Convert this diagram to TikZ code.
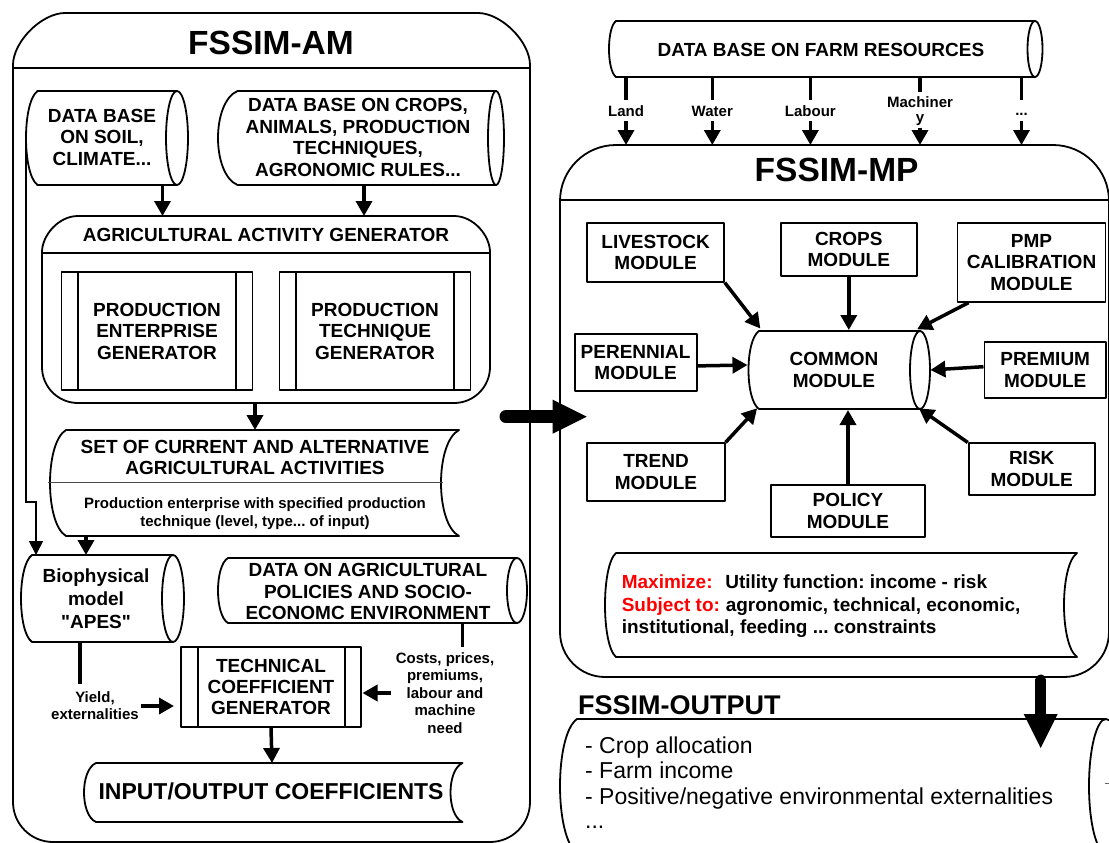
\documentclass[tikz,border=0pt]{standalone}
\usepackage{fontspec}
\setmainfont{Liberation Sans}
% same face without TeX input mapping, for straight quotation marks
\newfontfamily\plainsans{Liberation Sans}
\usetikzlibrary{arrows.meta}

% direct-access storage: top-left x, left bulge, ellipse centre x, x radius, top y, bottom y, y radius
\newcommand\dbshape[7]{%
  \draw[box] (#3,#5) -- (#1,#5)
    .. controls ({#1-4*#2/3},{#5+0.12*(#6-#5)}) and ({#1-4*#2/3},{#6-0.12*(#6-#5)}) .. (#1,#6) -- (#3,#6);
  \draw[box] (#3,{(#5+#6)/2}) ellipse [x radius=#4pt, y radius=#7pt];
}
% stored data: left x, left bulge, right x, right bulge, top y, bottom y
\newcommand\sdshape[6]{%
  \draw[box] (#1,#5) -- (#3,#5)
    .. controls ({#3-4*#4/3},{#5+0.12*(#6-#5)}) and ({#3-4*#4/3},{#6-0.12*(#6-#5)}) .. (#3,#6)
    -- (#1,#6)
    .. controls ({#1-4*#2/3},{#6-0.12*(#6-#5)}) and ({#1-4*#2/3},{#5+0.12*(#6-#5)}) .. cycle;
}

\tikzset{
  box/.style={line width=1.8pt, line join=round},
  txt/.style={font=\bfseries\fontsize{19pt}{21.5pt}\selectfont, align=center, inner sep=0pt},
  small/.style={font=\bfseries\fontsize{15pt}{17.4pt}\selectfont, align=center, inner sep=0pt},
  bigtitle/.style={font=\bfseries\fontsize{33.5pt}{36pt}\selectfont, inner sep=0pt},
  module/.style={draw, box, txt},
  arr/.style={line width=3.5pt, -{Triangle[length=15pt,width=16pt]}},
  thinarr/.style={line width=1.8pt, -{Triangle[length=14pt,width=14pt]}},
  stem/.style={line width=3.5pt},
  fat/.style={line cap=round, -{Triangle[length=34pt,width=34pt,line width=0pt]}},
  outtxt/.style={font=\fontsize{23pt}{26pt}\selectfont, inner sep=0pt, anchor=base west},
  objtxt/.style={font=\bfseries\fontsize{19pt}{22pt}\selectfont, inner sep=0pt, anchor=base west},
}

\begin{document}
\frenchspacing
\begin{tikzpicture}[x=1pt,y=-1pt]
\useasboundingbox (0,0) rectangle (1109,843);
\clip (0,0) rectangle (1109,843);

% ---------------- FSSIM-AM frame ----------------
\draw[box] (13,802) -- (13,65) .. controls (13,41.7) and (41.7,13) .. (65,13) -- (478,13)
  .. controls (501.3,13) and (530,41.7) .. (530,65) -- (530,802)
  .. controls (530,824.1) and (512.1,842) .. (490,842) -- (53,842)
  .. controls (30.9,842) and (13,824.1) .. (13,802) -- cycle;
\draw[box] (13,68) -- (530,68);
\node[bigtitle] (amtitle) at (271,42.5) {FSSIM-AM};

% data bases
\dbshape{37.5}{11.5}{177}{11}{91}{185}{47}
\node[txt] (soil) at (102,137) {DATA BASE\\ON SOIL,\\CLIMATE...};
\coordinate (soil-s) at (162.5,185);
\coordinate (soil-w) at (26,138);

\dbshape{237.5}{19.5}{496}{8}{91}{185}{47}
\node[txt] (crops) at (358,137.5) {DATA BASE ON CROPS,\\ANIMALS, PRODUCTION\\TECHNIQUES,\\AGRONOMIC RULES...};
\coordinate (crops-s) at (364,185);

% agricultural activity generator
\draw[box] (42,367) -- (42,252) .. controls (42,235.9) and (58.1,216) .. (78,216) -- (454,216)
  .. controls (473.9,216) and (490,235.9) .. (490,252) -- (490,367)
  .. controls (490,386.9) and (473.9,403) .. (454,403) -- (78,403)
  .. controls (58.1,403) and (42,386.9) .. (42,367) -- cycle;
\draw[box] (42,253) -- (490,253);
\node[txt] (aag) at (266,235) {AGRICULTURAL ACTIVITY GENERATOR};
\coordinate (aag-n1) at (162.5,216);
\coordinate (aag-n2) at (364,216);
\coordinate (aag-s) at (255,403);

\node[module, minimum width=191pt, minimum height=118pt] (peg) at (157,331) {PRODUCTION\\ENTERPRISE\\GENERATOR};
\draw[box] ([xshift=17.5pt]peg.north west) -- ([xshift=17.5pt]peg.south west);
\draw[box] ([xshift=-17.5pt]peg.north east) -- ([xshift=-17.5pt]peg.south east);
\node[module, minimum width=191pt, minimum height=118pt] (ptg) at (375,331) {PRODUCTION\\TECHNIQUE\\GENERATOR};
\draw[box] ([xshift=17.5pt]ptg.north west) -- ([xshift=17.5pt]ptg.south west);
\draw[box] ([xshift=-17.5pt]ptg.north east) -- ([xshift=-17.5pt]ptg.south east);

% set of activities
\sdshape{66}{16}{459}{18}{430}{536}
\draw[line width=0.8pt, black!70] (48,482) -- (443,482);
\node[txt, font=\bfseries\fontsize{19pt}{21pt}\selectfont] (set) at (255,457) {SET OF CURRENT AND ALTERNATIVE\\AGRICULTURAL ACTIVITIES};
\node[small, font=\bfseries\fontsize{15pt}{18pt}\selectfont] (setsub) at (255,513.5) {Production enterprise with specified production\\technique (level, type... of input)};
\coordinate (set-n) at (255,430);
\coordinate (set-s) at (86,536);

% biophysical model and policy data
\dbshape{32}{11}{173}{11}{555}{642}{43.5}
\node[txt, font=\bfseries\fontsize{19pt}{23pt}\selectfont] (bio) at (96,598.5) {Biophysical\\model\\{\plainsans"}APES{\plainsans"}};
\coordinate (bio-n1) at (36,555);
\coordinate (bio-n2) at (86,555);
\coordinate (bio-s) at (80,642);
\coordinate (bio-t) at (80,684);

\dbshape{228}{10}{517}{10}{558}{623}{32.5}
\node[txt] (pol) at (368,591.5) {DATA ON AGRICULTURAL\\POLICIES AND SOCIO-\\ECONOMC ENVIRONMENT};
\coordinate (pol-s) at (462.5,623);
\coordinate (pol-t) at (462.5,647);

% technical coefficient generator
\node[module, minimum width=180pt, minimum height=80pt, font=\bfseries\fontsize{19pt}{21pt}\selectfont] (tc) at (271,687) {TECHNICAL\\COEFFICIENT\\GENERATOR};
\draw[box] ([xshift=17.5pt]tc.north west) -- ([xshift=17.5pt]tc.south west);
\draw[box] ([xshift=-17pt]tc.north east) -- ([xshift=-17pt]tc.south east);
\node[small, font=\bfseries\fontsize{15pt}{17pt}\selectfont] (yield) at (95,705.5) {Yield,\\externalities};
\node[small] (costs) at (445,693) {Costs, prices,\\premiums,\\labour and\\machine\\need};
\coordinate (yield-e) at (141,706);
\coordinate (tc-w) at (174,706);
\coordinate (costs-w) at (391,693);
\coordinate (tc-e) at (362.5,693);

% input/output coefficients
\sdshape{96}{12}{462.5}{12}{763}{822}
\node[txt, font=\bfseries\fontsize{23pt}{26pt}\selectfont] (io) at (271,791.5) {INPUT/OUTPUT COEFFICIENTS};
\coordinate (io-n) at (272,763);

% connectors inside FSSIM-AM
\draw[arr] (soil-s) -- (aag-n1);
\draw[arr] (crops-s) -- (aag-n2);
\draw[arr] (aag-s) -- (set-n);
\draw[thinarr] (soil-w) -- (26,502) -| (bio-n1);
\draw[arr] (set-s) -- (bio-n2);
\draw[stem] (bio-s) -- (bio-t);
\draw[arr] (yield-e) -- (tc-w);
\draw[stem] (pol-s) -- (pol-t);
\draw[arr] (costs-w) -- (tc-e);
\draw[arr] (tc.south) -- (io-n);

% ---------------- farm resources ----------------
\dbshape{616}{7}{1035}{7.5}{21}{77}{28}
\node[txt] (farm) at (821,49.5) {DATA BASE ON FARM RESOURCES};
\node[small, anchor=base] (lland) at (626,116) {Land};
\node[small, anchor=base] (lwater) at (712.3,116) {Water};
\node[small, anchor=base] (llabour) at (810.4,116) {Labour};
\node[small, anchor=base] (lmach) at (920,107.7) {Machiner};
\node[small, anchor=base] (lmachy) at (920,122.4) {y};
\node[small, anchor=base] (ldots) at (1021.5,115) {...};
\foreach \nm/\x in {land/626,water/712.3,labour/810.4,dots/1021.5}{
  \coordinate (fr-\nm) at (\x,77);
  \coordinate (mp-\nm) at (\x,145);
  \draw[stem] (fr-\nm) -- ++(0,23);
  \draw[arr] (mp-\nm) ++(0,-24) -- (mp-\nm);
}
\coordinate (fr-mach) at (920,77);
\coordinate (mp-mach) at (920,145);
\draw[stem] (fr-mach) -- ++(0,15);
\draw[arr] (mp-mach) ++(0,-17) -- (mp-mach);

% ---------------- FSSIM-MP frame ----------------
\draw[box] (560,632) -- (560,201) .. controls (560,170.1) and (585.1,145) .. (616,145) -- (1053,145)
  .. controls (1083.9,145) and (1109,170.1) .. (1109,201) -- (1109,632)
  .. controls (1109,656.8) and (1088.8,677) .. (1064,677) -- (605,677)
  .. controls (580.2,677) and (560,656.8) .. (560,632) -- cycle;
\draw[box] (560,200) -- (1109,200);
\node[bigtitle] (mptitle) at (836.6,170) {FSSIM-MP};

\node[module, minimum width=136.6pt, minimum height=58.4pt] (live) at (655.6,252.5) {LIVESTOCK\\MODULE};
\node[module, minimum width=136.4pt, minimum height=52.7pt] (cropm) at (848.8,249.7) {CROPS\\MODULE};
\node[module, minimum width=148pt, minimum height=78.4pt] (pmp) at (1031.5,262.5) {PMP\\CALIBRATION\\MODULE};
\node[module, minimum width=122pt, minimum height=56.7pt] (peren) at (635.6,362.4) {PERENNIAL\\MODULE};
\node[module, minimum width=121.6pt, minimum height=56.6pt] (prem) at (1045.2,370) {PREMIUM\\MODULE};
\node[module, minimum width=137.3pt, minimum height=57.4pt] (trend) at (656,472) {TREND\\MODULE};
\node[module, minimum width=154.4pt, minimum height=51.7pt] (polm) at (848,510.8) {POLICY\\MODULE};
\node[module, minimum width=126.1pt, minimum height=51.7pt] (risk) at (1031.7,469.2) {RISK\\MODULE};

\dbshape{759}{10.5}{920}{10}{331}{409}{39}
\node[txt] (common) at (834,370) {COMMON\\MODULE};
\coordinate (cm-a) at (760.3,328.5);
\coordinate (cm-n) at (848.8,330);
\coordinate (cm-b) at (917.1,329.3);
\coordinate (cm-w) at (747.5,365);
\coordinate (cm-e) at (930.4,370);
\coordinate (cm-c) at (757.1,408.3);
\coordinate (cm-s) at (848,410);
\coordinate (cm-d) at (918.9,408.3);

\draw[arr] (live.south east) -- (cm-a);
\draw[arr] (cropm.south) -- (cm-n);
\draw[arr] ([xshift=12pt]pmp.south west) -- (cm-b);
\draw[arr] ([yshift=-3.5pt]peren.east) -- (cm-w);
\draw[arr] ([yshift=3.3pt]prem.west) -- (cm-e);
\draw[arr] (trend.north east) -- (cm-c);
\draw[arr] (polm.north) -- (cm-s);
\draw[arr] (risk.north west) -- (cm-d);

% objective function
\sdshape{616}{11}{1077}{13}{553}{657}
\node[objtxt] (mx1) at (621.6,588.5) {\makebox[103.5pt][l]{\textcolor{red}{Maximize:}}Utility function: income - risk};
\node[objtxt] (mx2) at (621.6,611) {\makebox[104pt][l]{\textcolor{red}{Subject to:}}agronomic, technical, economic,};
\node[objtxt] (mx3) at (621.6,633.5) {institutional, feeding ... constraints};

% ---------------- FSSIM-OUTPUT ----------------
\node[font=\bfseries\fontsize{27pt}{30pt}\selectfont, inner sep=0pt, anchor=base west] (outttl) at (578,714.5) {FSSIM-OUTPUT};
\dbshape{577}{17}{1106}{17}{719}{853}{67}
\draw[line width=1pt, black!60] (1104.5,783.5) -- (1109,783.5);
\node[outtxt] (o1) at (585,753) {- Crop allocation};
\node[outtxt] (o2) at (585,778.5) {- Farm income};
\node[outtxt] (o3) at (585,804) {- Positive/negative environmental externalities};
\node[outtxt] (o4) at (585,828) {...};

% main flows between the blocks
\coordinate (am-out) at (506,416.7);
\coordinate (mp-in) at (586.7,416.7);
\coordinate (mp-out) at (1040.7,680);
\coordinate (out-in) at (1040.7,748);
\draw[fat, line width=13pt] (am-out) -- (mp-in);
\draw[fat, line width=11pt] (mp-out) -- (out-in);
\end{tikzpicture}
\end{document}
